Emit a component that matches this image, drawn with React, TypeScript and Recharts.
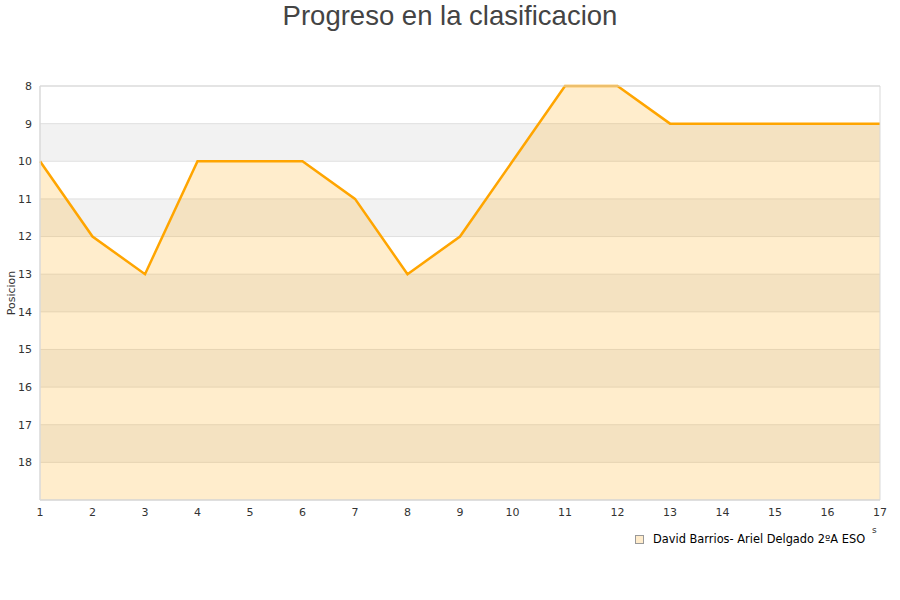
import { ComposedChart, Area, XAxis, YAxis, CartesianGrid, ReferenceArea } from "recharts";

const jornadas = [1, 2, 3, 4, 5, 6, 7, 8, 9, 10, 11, 12, 13, 14, 15, 16, 17];
const posiciones = [10, 12, 13, 10, 10, 10, 11, 13, 12, 10, 8, 8, 9, 9, 9, 9, 9];
const yTicks = [8, 9, 10, 11, 12, 13, 14, 15, 16, 17, 18];
const serieNombre = "David Barrios- Ariel Delgado 2ºA ESO";

const data = jornadas.map((j, i) => ({ jornada: j, pos: posiciones[i] }));

const tickStyle = { fontSize: 11, fill: "#333", fontFamily: "DejaVu Sans" };

export default function App() {
  return (
    <div style={{ position: "absolute", left: 0, top: 0, width: 900, height: 600, background: "#fff" }}>
      <div
        style={{
          position: "absolute",
          top: 0,
          width: 900,
          textAlign: "center",
          fontFamily: "Liberation Sans, Arial, sans-serif",
          fontSize: 27.5,
          color: "#444",
          lineHeight: "32px",
        }}
      >
        Progreso en la clasificacion
      </div>
      <ComposedChart width={900} height={600} data={data} margin={{ top: 86, right: 20, bottom: 70, left: 0 }}>
        <CartesianGrid vertical={false} stroke="#e0e0e0" horizontalFill={["#ffffff", "#f2f2f2"]} fillOpacity={1} />
        <XAxis
          dataKey="jornada"
          type="number"
          domain={[1, 17]}
          ticks={jornadas}
          tickLine={false}
          axisLine={{ stroke: "#d9d9d9" }}
          tick={tickStyle}
          height={30}
        />
        <YAxis
          reversed
          type="number"
          domain={[8, 19]}
          ticks={yTicks}
          tickLine={false}
          axisLine={{ stroke: "#d9d9d9" }}
          tick={tickStyle}
          width={40}
          label={{
            value: "Posicion",
            angle: -90,
            position: "insideLeft",
            offset: 11,
            style: { fontSize: 11, fill: "#333", fontFamily: "DejaVu Sans", textAnchor: "middle" },
          }}
        />
        <Area
          type="linear"
          dataKey="pos"
          baseValue="dataMax"
          stroke="#ffa500"
          strokeWidth={2.5}
          fill="#ffa500"
          fillOpacity={0.2}
          dot={false}
          activeDot={false}
          isAnimationActive={false}
        />
        <ReferenceArea x1={1} x2={17} y1={8} y2={19} fill="none" stroke="#d9d9d9" strokeWidth={1} ifOverflow="visible" />
      </ComposedChart>
      <div
        style={{
          position: "absolute",
          left: 635,
          top: 532,
          display: "flex",
          alignItems: "center",
          fontFamily: "DejaVu Sans",
          fontSize: 11.4,
          color: "#000",
        }}
      >
        <span
          style={{
            display: "inline-block",
            width: 7,
            height: 7,
            background: "#ffeccc",
            border: "1px solid #999",
            marginRight: 9,
          }}
        />
        {serieNombre}
      </div>
      <div style={{ position: "absolute", left: 872, top: 525, fontFamily: "DejaVu Sans", fontSize: 9, color: "#333" }}>s</div>
    </div>
  );
}
